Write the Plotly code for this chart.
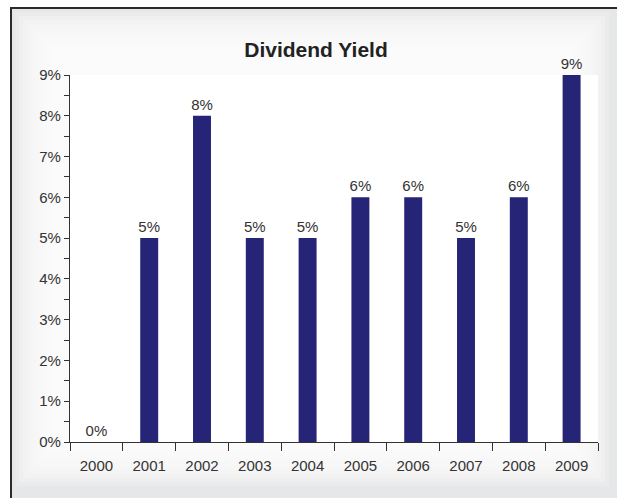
import plotly.graph_objects as go

years = ["2000", "2001", "2002", "2003", "2004", "2005", "2006", "2007", "2008", "2009"]
yield_pct = [0, 5, 8, 5, 5, 6, 6, 5, 6, 9]
labels = [f"{v}%" for v in yield_pct]
y_ticks = list(range(0, 10))
y_ticktext = [f"{t}%" for t in y_ticks]

W, H = 617, 498
L, R, T, B = 70, 19, 75, 56
pw, ph = W - L - R, H - T - B

def px_to_paper_x(px):
    return (px - L) / pw

def px_to_paper_y(py):
    return (H - B - py) / ph

FONT = "Liberation Sans, Arial, sans-serif"

fig = go.Figure()
fig.add_trace(go.Bar(
    x=years, y=yield_pct, text=labels, textposition="outside",
    constraintext="none",
    textfont=dict(size=15, color="#333333", family=FONT),
    marker=dict(color="#262477", line=dict(width=0)),
    width=0.34, cliponaxis=False, showlegend=False,
))

shapes = []
# outer gray panel with dark border
bx0, by0, bx1, by1 = 11, 8, 640, 520
shapes.append(dict(type="rect", xref="paper", yref="paper", layer="below",
                   x0=px_to_paper_x(bx0), x1=px_to_paper_x(bx1),
                   y0=px_to_paper_y(by1), y1=px_to_paper_y(by0),
                   fillcolor="#e6e7e8", line=dict(color="#2b2b2b", width=2)))
# soft gradient to white
steps = 12
for i in range(1, steps + 1):
    inset = 4 * i
    shapes.append(dict(type="rect", xref="paper", yref="paper", layer="below",
                       x0=px_to_paper_x(bx0 + inset), x1=px_to_paper_x(W - 4 - inset),
                       y0=px_to_paper_y(H - 8 - inset), y1=px_to_paper_y(by0 + inset),
                       fillcolor="rgba(255,255,255,0.2)", line=dict(width=0)))
# plot area white
shapes.append(dict(type="rect", xref="paper", yref="paper", layer="below",
                   x0=0, x1=1, y0=0, y1=1, fillcolor="white", line=dict(width=0)))

fig.update_layout(
    width=W, height=H,
    margin=dict(l=L, r=R, t=T, b=B),
    paper_bgcolor="white", plot_bgcolor="rgba(0,0,0,0)",
    shapes=shapes,
    title=dict(text="<b>Dividend Yield</b>", x=316 / W, xanchor="center",
               y=1 - 50 / H, yanchor="middle", yref="container",
               font=dict(size=21, color="#222222", family=FONT)),
    font=dict(family=FONT, size=15, color="#333333"),
)
fig.update_xaxes(
    type="category", range=[-0.5, 9.5], tickson="boundaries",
    ticks="outside", ticklen=8, tickcolor="#333333", tickwidth=1,
    showline=True, linecolor="#333333", linewidth=1.2,
    showgrid=False, zeroline=False, ticklabelstandoff=10,
    tickfont=dict(size=15, color="#333333", family=FONT),
)
fig.update_yaxes(
    range=[0, 9], tickvals=y_ticks, ticktext=y_ticktext,
    ticks="outside", ticklen=5, tickcolor="#333333", tickwidth=1,
    minor=dict(ticks="outside", ticklen=5, dtick=0.5, tickcolor="#333333", showgrid=False),
    showline=True, linecolor="#333333", linewidth=1.2,
    showgrid=False, zeroline=False,
    tickfont=dict(size=15, color="#333333", family=FONT),
)

fig.write_html("out.html")
